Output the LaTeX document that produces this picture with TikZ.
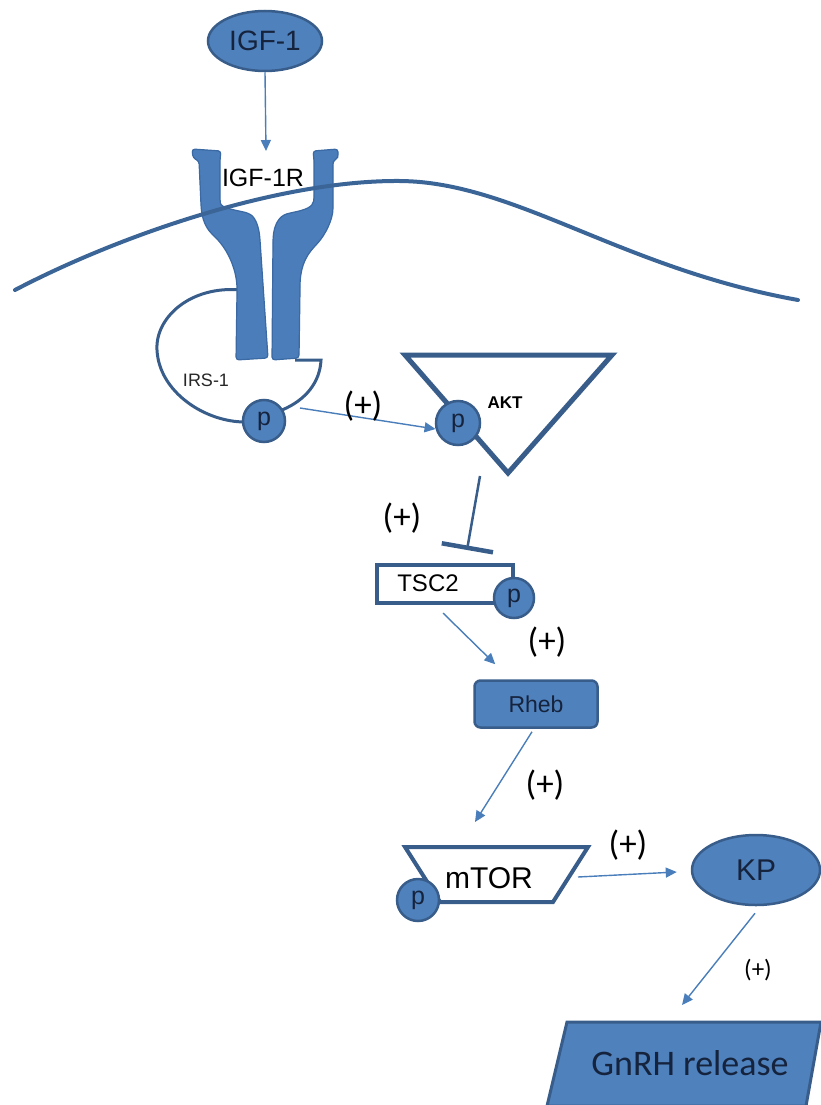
\documentclass[tikz,border=0pt]{standalone}
\usepackage{fontspec}
\setmainfont{Liberation Sans}
\newfontfamily\califont{Carlito}
\usetikzlibrary{arrows.meta,shapes.geometric,calc}

\definecolor{shapefill}{HTML}{4F81BD}
\definecolor{shapeedge}{HTML}{385D8A}
\definecolor{recfill}{HTML}{4A7DBA}
\definecolor{recedge}{HTML}{3A69A3}
\definecolor{linkblue}{HTML}{4A7EBB}
\definecolor{membrane}{HTML}{3B6596}
\definecolor{inktext}{HTML}{15233D}

\begin{document}
\begin{tikzpicture}[x=1pt,y=-1pt,
  blob/.style={ellipse, fill=shapefill, draw=shapeedge, line width=2.5pt,
    text=inktext, inner sep=0pt},
  phos/.style={circle, fill=shapefill, draw=shapeedge, line width=2.5pt,
    minimum size=42pt, inner sep=0pt, text=inktext,
    font=\fontsize{25}{25}\selectfont},
  arr/.style={draw=linkblue, line width=1.4pt,
    -{Triangle[length=11pt,width=10pt]}},
  inh/.style={draw=shapeedge, line width=2.5pt,
    -{Bar[width=52pt,line width=4.5pt]}},
  plus/.style={font=\califont\fontsize{35}{35}\selectfont, text=black},
  outline/.style={draw=shapeedge, line join=miter},
  receptor/.style={fill=recfill, draw=recedge, line width=1.2pt, rounded corners=3pt},
]
\useasboundingbox (0,0) rectangle (821,1105);

% ---------- IGF-1 ligand ----------
\node[blob, minimum width=114pt, minimum height=60pt,
  font=\fontsize{28}{28}\selectfont] (igf) at (265,41) {IGF-1};
\coordinate (rtop) at (266,151);
\draw[arr] (igf.south) -- (rtop);

% ---------- IRS-1 loop (behind the receptor) ----------
\draw[shapeedge, line width=3pt]
  (242,290) .. controls (190,285) and (155,318) .. (157,350)
            .. controls (159,392) and (205,422) .. (245,422);
\draw[shapeedge, line width=3pt, line join=miter]
  (282,410) .. controls (306,400) and (320,382) .. (321,360) -- (295,360);

% ---------- IGF-1R receptor, two halves ----------
\draw[receptor]
  (192,149) -- (221,151) -- (220,160) -- (220,200)
  .. controls (221,208) and (235,210) .. (248,213)
  .. controls (256,218) and (259,228) .. (260,240)
  -- (268,358) -- (236,360) -- (237,292)
  .. controls (237,270) and (228,250) .. (214,236)
  .. controls (205,227) and (202,218) .. (201,205)
  -- (199,161) -- (193,158) -- cycle;
\draw[receptor]
  (313,151) -- (338,149) -- (338,158) -- (333,161) -- (333,205)
  .. controls (333,220) and (325,235) .. (316,245)
  .. controls (304,258) and (300,270) .. (300,290)
  -- (299,358) -- (272,360) -- (273,240)
  .. controls (274,225) and (279,216) .. (290,213)
  .. controls (305,210) and (313,207) .. (314,198)
  -- (314,160) -- cycle;
\node[font=\fontsize{25}{25}\selectfont] (igfr) at (263,178) {IGF-1R};

% ---------- cell membrane ----------
\draw[membrane, line width=4pt, line cap=round]
  (15,290) .. controls (120,235) and (280,180) .. (400,181)
           .. controls (515,182) and (620,268) .. (798,300);

\node[font=\fontsize{18}{18}\selectfont, text=black!85] (irs) at (206,380) {IRS-1};
\node[phos] (irsp) at (264,421) {p};

% ---------- AKT ----------
\draw[outline, line width=5pt] (405,355) -- (612,355) -- (508,473) -- cycle;
\node[phos, minimum size=44pt] (aktp) at (458,423) {p};
\node[font=\bfseries\fontsize{17}{17}\selectfont] (akt) at (505,403) {AKT};

\coordinate (irsout) at (300,408);
\draw[arr] (irsout) -- (aktp.195);
\node[plus] (plus1) at (363,406) {(+)};

% ---------- AKT --| TSC2 ----------
\coordinate (aktfoot) at (480,476);
\coordinate (tscbar) at (467,550);
\draw[inh] (aktfoot) -- (tscbar);
\node[plus] (plus2) at (402,518) {(+)};

% ---------- TSC2 ----------
\node[draw=shapeedge, fill=white, line width=4pt, minimum width=136pt,
  minimum height=38pt, inner sep=0pt] (tsc2) at (445,584) {};
\node[font=\fontsize{24}{24}\selectfont] (tsc2txt) at (428,583) {TSC2};
\node[phos, minimum size=40pt] (tscp) at (514,598) {p};

% ---------- Rheb ----------
\node[fill=shapefill, draw=shapeedge, line width=2.5pt, rounded corners=6pt,
  minimum width=123pt, minimum height=47pt, text=inktext,
  font=\fontsize{23}{23}\selectfont] (rheb) at (536,704) {Rheb};
\draw[arr] ([shift={(-2,8)}]tsc2.south) -- ([shift={(22,-15)}]rheb.north west);
\node[plus] (plus3) at (547,642) {(+)};

% ---------- mTOR ----------
\draw[outline, line width=4pt, fill=white]
  (405,847) -- (588,847) -- (553,902) -- (440,902) -- cycle;
\node[font=\fontsize{30}{30}\selectfont] (mtor) at (489,878) {mTOR};
\node[phos, minimum size=42pt] (mtorp) at (418,900) {p};
\draw[arr] ([shift={(-4,3)}]rheb.south) -- ([shift={(-14,-56)}]mtor.center);
\node[plus] (plus4) at (545,785) {(+)};

% ---------- KP ----------
\node[blob, minimum width=128pt, minimum height=70pt,
  font=\fontsize{30}{30}\selectfont] (kp) at (756,870) {KP};
\coordinate (mtorout) at (578,877);
\draw[arr] (mtorout) -- ([shift={(-14,2)}]kp.west);
\node[plus] (plus5) at (628,845) {(+)};

% ---------- GnRH release ----------
\draw[fill=shapefill, draw=shapeedge, line width=3pt]
  (567,1022) -- (821,1022) -- (806,1106) -- (547,1106) -- cycle;
\node[font=\califont\fontsize{36}{36}\selectfont, text=inktext] (gnrh) at (690,1063) {GnRH release};
\draw[arr] ([shift={(-1,7)}]kp.south) -- ([shift={(-8,-58)}]gnrh.center);
\node[plus, font=\califont\fontsize{25}{25}\selectfont] (plus6) at (758,970) {(+)};
\end{tikzpicture}
\end{document}
